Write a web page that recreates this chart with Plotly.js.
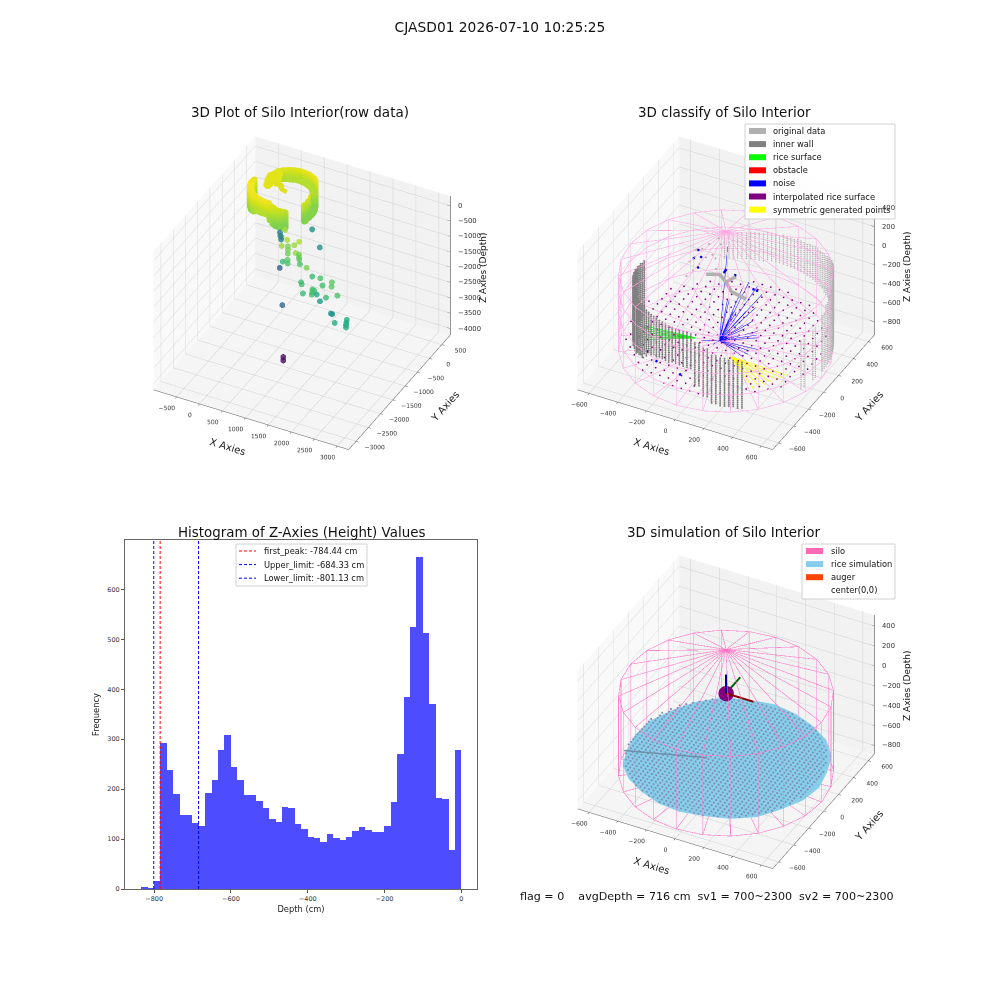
<!DOCTYPE html>
<html><head><meta charset="utf-8">
<script src="https://cdn.plot.ly/plotly-3.0.0.min.js"></script>
<style>html,body{margin:0;padding:0;background:#fff}</style></head>
<body><div id="chart" style="width:1000px;height:1000px"></div>
<script>
// ---------- histogram ----------
const binCenters=[-825.7,-809.0,-792.3,-775.6,-758.9,-742.2,-725.6,-708.9,-692.2,-675.5,-658.8,-642.1,-625.5,-608.8,-592.1,-575.4,-558.7,-542.0,-525.4,-508.7,-492.0,-475.3,-458.6,-441.9,-425.2,-408.6,-391.9,-375.2,-358.5,-341.8,-325.1,-308.5,-291.8,-275.1,-258.4,-241.7,-225.0,-208.4,-191.7,-175.0,-158.3,-141.6,-124.9,-108.3,-91.6,-74.9,-58.2,-41.5,-24.8,-8.2];
const binCounts=[4,2,16,292,238,190,148,148,132,126,192,218,278,308,244,218,188,188,176,162,140,134,164,162,130,120,104,102,94,110,102,98,104,116,124,118,114,114,126,174,270,385,524,665,513,371,182,180,78,278];
const firstPeak=-784.44, upperLimit=-684.33, lowerLimit=-801.13;
const limitNames=['first_peak: -784.44 cm','Upper_limit: -684.33 cm','Lower_limit: -801.13 cm'];
const limitColors=['#ff0000','#0000ff','#0000ff'];
// ---------- scattered returns (panel 1) ----------
const outX=[623,805,634,764,782,835,857,971,1058,1112,1062,1104,1086,1111,1429,891,895,703,39,383,787,-271,-207,-145,706,1368,1411,1436,1675,1993,2054,1786,1533,1673,1716,1741,1720,1637,1992,2232,1701,2021,2053,2413,2574,2610,2641,2677,949,1001];
const outY=[-1249,-1515,-1417,-1664,-1442,-1543,-1585,-1533,-1497,-1747,-1517,-1598,-1550,-1570,-1892,-1662,-1656,-1508,-383,295,-150,205,110,19,-1526,-2005,-2058,-1676,-1794,-1914,-2045,-1911,-2238,-2113,-2193,-2268,-2123,-1870,-2156,-2139,-1858,-2007,-2015,-2591,-2397,-2482,-2553,-2621,-1947,-2045];
const outZ=[-520,-520,-600,-600,-800,-800,-880,-600,-480,-600,-880,-880,-1000,-1120,-800,-1000,-1120,-1280,-2800,-2000,-2000,-2320,-2320,-2320,-2680,-1200,-1200,-1280,-1120,-1000,-1000,-1200,-1280,-1200,-1200,-1200,-1200,-1600,-1280,-1120,-1800,-1920,-1920,-1520,-1520,-1520,-1520,-1520,-3880,-3880];
const outShiftX=-77, outShiftY=427;
// ---------- wall columns (polar, degrees) ----------
const backAngles=[-20,-10,0,5,10,15,20,25,30,35,40,45,50,55,60,65,70,75,80,85,90,95,100,105,110,115,120];
const backTop=[-250,-220,-150,-100,-60,-20,20,30,40,30,10,-30,-50,-65,-80,-90,-105,-115,-125,-140,-150,-160,-170,-180,-190,-200,-214];
const backBottom=[-760,-750,-745,-745,-745,-745,-745,-745,-745,-650,-520,-470,-460,-450,-440,-440,-440,-440,-440,-440,-450,-450,-460,-460,-470,-470,-470];
const frontAngles=[180,185,190,195,200,205,210,215,220,225,230,235,240,245,250,255,260,265,270,275,280,285,290,295,300];
const frontTop=[-146,-130,-110,-90,-70,-50,-50,-50,-60,-70,-75,-80,-80,-80,-80,-80,-80,-80,-75,-150,-200,-255,-280,-300,-320];
const frontBottom=[-720,-720,-710,-700,-700,-700,-700,-690,-680,-650,-620,-560,-500,-480,-470,-460,-450,-450,-450,-600,-700,-765,-780,-790,-800];
const wallLevels=[40,20,0,-20,-40,-60,-80,-100,-120,-140,-160,-180,-200,-220,-240,-260,-280,-300,-320,-340,-360,-380,-400,-420,-440,-460,-480,-500,-520,-540,-560,-580,-600,-620,-640,-660,-680,-700,-720,-740,-760,-780,-800];
const columnOffsets=[0,2.5];
const wallRadius=620, wallCenterX=40, wallCenterY=20;
// ---------- central obstruction and sparse returns ----------
const blobX=[-122,-38,31,101,215,null,31,67];
const blobY=[-32,-14,-58,-123,-142,null,-58,5];
const blobZ=[-40,-20,-30,-40,-50,null,-30,-10];
const sparseX=[-265,-231,-265,-211,-176,-195,-212,-177,-159,-89,-230,-140,-250,-120];
const sparseY=[20,-87,104,177,241,18,-34,71,123,37,125,200,60,90];
const sparseZ=[-20,-60,30,50,70,-10,-40,20,10,-30,40,60,0,20];
// ---------- noise rays ----------
const rayStart=[-40,-10,-720];
const rayEndX=[169,186,124,71,266,269,207,159,195,134,107,28,250,168,-4,230,150,100,60,210,180,120,90,-4,-90,-150,-60];
const rayEndY=[73,126,71,83,-65,-90,-83,-81,-18,10,-69,-8,-54,97,29,-30,-40,-30,-20,-110,-120,-110,-70,29,-20,-40,-60];
const rayEndZ=[-350,-250,-100,-200,-500,-600,-650,-400,-400,-350,-300,-250,-450,-150,250,-520,-480,-420,-360,-660,-690,-640,-560,-300,-730,-740,-725];
const noiseX=[-15,61,-12,-18,58,-240,-210,-190,-250,-330,-240,-60,160,200];
const noiseY=[16,6,20,12,10,30,70,-10,110,-420,-470,-500,60,30];
const noiseZ=[0,0,10,-10,-5,20,10,-20,30,-600,-620,-650,-150,-120];
// ---------- rice surface, symmetric points ----------
const riceApex=[-166,-79,-690];
const riceEndX=[-517,-510,-500,-490,-480,-465,-448];
const riceEndY=[-113,-135,-160,-180,-200,-222,-242];
const riceZ=-690;
const symApex=[106,-154,-690];
const symEndX=[520,499,478,457,436,415,394];
const symEndY=[-168,-205,-241,-278,-315,-351,-388];
const symZ=-690;
// ---------- interpolated lattice ----------
const latticeValues=[-600,-540,-480,-420,-360,-300,-240,-180,-120,-60,0,60,120,180,240,300,360,420,480,540,600];
const latticeHalf=[120,300,360,420,480,540,540,540,600,600,600,600,600,540,540,540,480,420,360,300,120];
const latticeZ=-680;
// ---------- silo ----------
const siloAngles=[0,15,30,45,60,75,90,105,120,135,150,165,180,195,210,225,240,255,270,285,300,315,330,345];
const siloRadius=665, siloTop=0, siloBottom=-800, roofApex=440, floorApex=-700;
const siloLevels=[-620,-400,-180];
// ---------- simulated rice ----------
const simRadii=[650,640,655,650,640,645,650,640,650,640,630,640,635,630,640,630,620,625,630,620,630,640,630,645];
const simRim=[-660,-660,-660,-655,-660,-665,-660,-660,-665,-670,-680,-690,-700,-705,-695,-680,-670,-660,-655,-655,-660,-660,-660,-660];
const simCenterZ=-660;
const simValues=[-600,-570,-540,-510,-480,-450,-420,-390,-360,-330,-300,-270,-240,-210,-180,-150,-120,-90,-60,-30,0,30,60,90,120,150,180,210,240,270,300,330,360,390,420,450,480,510,540,570,600];
const simHalf=[150,240,300,360,390,420,450,480,510,510,540,540,570,570,570,600,600,600,600,600,600,600,600,600,600,600,570,570,570,540,540,510,510,480,450,420,390,360,300,240,150];
const wedgeX=[-590,-100], wedgeY=[-230,-60], wedgeZ=[-640,-640];
// ---------- axis ticks ----------
const ticks1X=[-500,0,500,1000,1500,2000,2500,3000];
const ticks1Y=[-3000,-2500,-2000,-1500,-1000,-500,0,500];
const ticks1Z=[-4000,-3500,-3000,-2500,-2000,-1500,-1000,-500,0];
const ticksSilo=[-600,-400,-200,0,200,400,600];
const ticksSiloZ=[-800,-600,-400,-200,0,200,400];
// ---------- legend contents ----------
const classNames=['original data','inner wall','rice surface','obstacle','noise','interpolated rice surface','symmetric generated points'];
const classColors=['#b0b0b0','#808080','#00ff00','#ff0000','#0000ff','#800080','#ffff00'];
const simNames=['silo','rice simulation','auger','center(0,0)'];
const simColors=['#ff69b4','#87ceeb','#ff4500','#ffffff'];

const rad=a=>a*Math.PI/180;
function wallDots(angles,tops,bottoms){
  const x=[],y=[],z=[];
  angles.forEach((a,i)=>{columnOffsets.forEach(o=>{wallLevels.forEach(l=>{
    if(l<=tops[i]&&l>=bottoms[i]){
      x.push(wallCenterX+wallRadius*Math.cos(rad(a+o)));
      y.push(wallCenterY+wallRadius*Math.sin(rad(a+o)));
      z.push(l);
    }});});});
  return {x,y,z};
}
const back=wallDots(backAngles,backTop,backBottom);
const front=wallDots(frontAngles,frontTop,frontBottom);
function rays(start,ex,ey,ez){
  const x=[],y=[],z=[];
  ex.forEach((_,i)=>{x.push(start[0],ex[i],null);y.push(start[1],ey[i],null);z.push(start[2],ez[i],null);});
  return {x,y,z};
}
function siloWire(levels){
  const x=[],y=[],z=[];
  const zs=[siloTop,siloBottom].concat(levels);
  zs.forEach(l=>{
    siloAngles.concat([360]).forEach(a=>{x.push(siloRadius*Math.cos(rad(a)));y.push(siloRadius*Math.sin(rad(a)));z.push(l);});
    x.push(null);y.push(null);z.push(null);
  });
  siloAngles.forEach(a=>{
    const cx=siloRadius*Math.cos(rad(a)),cy=siloRadius*Math.sin(rad(a));
    x.push(0,cx,cx,0,null);y.push(0,cy,cy,0,null);z.push(roofApex,siloTop,siloBottom,floorApex,null);
  });
  return {x,y,z};
}
function axis3d(title,range,tickvals,bg){
  return {title:{text:title,font:{family:'DejaVu Sans',size:10,color:'#222'}},range,tickvals,autorange:false,tickangle:0,
    tickfont:{family:'DejaVu Sans',size:8.5,color:'#333'},showbackground:true,backgroundcolor:bg,
    gridcolor:'#cfcfcf',gridwidth:1,zeroline:false,showline:true,linecolor:'#555',linewidth:1,ticks:'outside',ticklen:3,tickcolor:'#555',showspikes:false};
}
const eyeDist=2.02;
const camera={eye:{x:0.374*eyeDist,y:-0.718*eyeDist,z:0.588*eyeDist},up:{x:0,y:0,z:1},center:{x:0,y:0,z:0},projection:{type:'orthographic'}};
const minusText=v=>String(v).replace('-','−');
function scene(dom,rx,ry,rz,tx,ty,tz){
  const zAxis=axis3d('',rz,tz,'#f5f5f5');
  zAxis.showticklabels=false;zAxis.showline=false;zAxis.ticks='';
  return {domain:dom,camera,aspectmode:'manual',aspectratio:{x:1,y:1,z:0.78},
    xaxis:axis3d('X Axies',rx,tx,'#f9f9f9'),yaxis:axis3d('Y Axies',ry,ty,'#f2f2f2'),zaxis:zAxis,
    annotations:tz.map(v=>({x:rx[1],y:ry[1],z:v,text:minusText(v),showarrow:false,xanchor:'left',xshift:6,yanchor:'middle',font:{family:'DejaVu Sans',size:6.8,color:'#333'}}))};
}
function zAxisEdge(sceneId,rx,ry,rz,tz){
  const tickX=(rx[1]-rx[0])*0.02, x=[rx[1],rx[1],null],y=[ry[1],ry[1],null],z=[rz[0],rz[1],null];
  tz.forEach(v=>{x.push(rx[1],rx[1]-tickX,null);y.push(ry[1],ry[1],null);z.push(v,v,null);});
  return {type:'scatter3d',scene:sceneId,mode:'lines',x,y,z,showlegend:false,line:{width:1.2,color:'#555'}};
}
const range1=[[-1000,3250],[-3300,850],[-4210,314]];
const range2=[[-680,680],[-680,680],[-940,520]];
const range3=[[-680,680],[-680,680],[-885,510]];

const traces=[];
// panel 1
const allX=back.x.concat(front.x),allY=back.y.concat(front.y),allZ=back.z.concat(front.z);
traces.push({type:'scatter3d',scene:'scene',mode:'markers',x:allX,y:allY,z:allZ,showlegend:false,
  marker:{size:4,color:allZ,colorscale:'Viridis',cmin:-4000,cmax:0,opacity:0.9,line:{width:0}}});
traces.push({type:'scatter3d',scene:'scene',mode:'lines',x:blobX,y:blobY,z:blobZ,showlegend:false,line:{width:9,color:'#dde01d'}});
traces.push({type:'scatter3d',scene:'scene',mode:'markers',x:sparseX,y:sparseY,z:sparseZ,showlegend:false,
  marker:{size:5,color:'#e3e31a',line:{width:0}}});
traces.push({type:'scatter3d',scene:'scene',mode:'markers',x:outX.map(v=>v+outShiftX),y:outY.map(v=>v+outShiftY),z:outZ,showlegend:false,
  marker:{size:3.4,color:outZ,colorscale:'Viridis',cmin:-4000,cmax:0,opacity:0.8,line:{width:0}}});
traces.push(zAxisEdge('scene',range1[0],range1[1],range1[2],ticks1Z));
// panel 2
const wire2=siloWire(siloLevels);
traces.push({type:'scatter3d',scene:'scene2',mode:'lines',x:wire2.x,y:wire2.y,z:wire2.z,showlegend:false,line:{width:1.3,color:'rgba(255,140,195,0.85)'}});
const lx=[],ly=[];
latticeValues.forEach((yv,i)=>latticeValues.forEach(xv=>{if(Math.abs(xv)<=latticeHalf[i]){lx.push(xv);ly.push(yv);}}));
traces.push({type:'scatter3d',scene:'scene2',mode:'markers',name:classNames[5],x:lx,y:ly,z:lx.map(()=>latticeZ),showlegend:false,marker:{size:1,color:classColors[5],line:{width:0}}});
traces.push({type:'scatter3d',scene:'scene2',mode:'markers',name:classNames[0],x:back.x,y:back.y,z:back.z,showlegend:false,marker:{size:0.8,color:classColors[0],line:{width:0}}});
traces.push({type:'scatter3d',scene:'scene2',mode:'markers',name:classNames[1],x:front.x,y:front.y,z:front.z,showlegend:false,marker:{size:1.1,color:classColors[1],line:{width:0}}});
traces.push({type:'scatter3d',scene:'scene2',mode:'lines',x:blobX,y:blobY,z:blobZ,showlegend:false,line:{width:7,color:classColors[0]}});
traces.push({type:'scatter3d',scene:'scene2',mode:'markers',x:sparseX,y:sparseY,z:sparseZ,showlegend:false,marker:{size:1.2,color:classColors[0],line:{width:0}}});
const noise=rays(rayStart,rayEndX,rayEndY,rayEndZ);
traces.push({type:'scatter3d',scene:'scene2',mode:'lines',name:classNames[4],x:noise.x,y:noise.y,z:noise.z,showlegend:false,line:{width:1,color:classColors[4]}});
traces.push({type:'scatter3d',scene:'scene2',mode:'markers',x:noiseX,y:noiseY,z:noiseZ,showlegend:false,marker:{size:1.5,color:classColors[4],line:{width:0}}});
const riceR=rays(riceApex,riceEndX,riceEndY,riceEndX.map(()=>riceZ));
traces.push({type:'scatter3d',scene:'scene2',mode:'lines',name:classNames[2],x:riceR.x,y:riceR.y,z:riceR.z,showlegend:false,line:{width:1.5,color:classColors[2]}});
const symR=rays(symApex,symEndX,symEndY,symEndX.map(()=>symZ));
traces.push({type:'scatter3d',scene:'scene2',mode:'lines',name:classNames[6],x:symR.x,y:symR.y,z:symR.z,showlegend:false,line:{width:1.5,color:classColors[6]}});
traces.push(zAxisEdge('scene2',range2[0],range2[1],range2[2],ticksSiloZ));
// panel 4
const wire4=siloWire([]);
traces.push({type:'scatter3d',scene:'scene3',mode:'lines',name:simNames[0],x:wire4.x,y:wire4.y,z:wire4.z,showlegend:false,line:{width:1.3,color:'rgba(255,105,180,0.9)'}});
const mx=[0],my=[0],mz=[simCenterZ],mi=[],mj=[],mk=[];
siloAngles.forEach((a,i)=>{mx.push(simRadii[i]*Math.cos(rad(a)));my.push(simRadii[i]*Math.sin(rad(a)));mz.push(simRim[i]);
  mi.push(0);mj.push(i+1);mk.push((i+1)%siloAngles.length+1);});
traces.push({type:'mesh3d',scene:'scene3',name:simNames[1],x:mx,y:my,z:mz,i:mi,j:mj,k:mk,color:simColors[1],opacity:1,flatshading:true,showscale:false,
  lighting:{ambient:1,diffuse:0,specular:0,roughness:1,fresnel:0}});
const hx=[],hy=[];
simValues.forEach((yv,i)=>simValues.forEach(xv=>{if(Math.abs(xv)<=simHalf[i]){hx.push(xv);hy.push(yv);}}));
traces.push({type:'scatter3d',scene:'scene3',mode:'markers',x:hx,y:hy,z:hx.map(()=>-650),showlegend:false,marker:{size:1.2,color:'#7f8fb5',line:{width:0}}});
traces.push({type:'scatter3d',scene:'scene3',mode:'lines',x:wedgeX,y:wedgeY,z:wedgeZ,showlegend:false,line:{width:3,color:'#6f8da6'}});
const arrowLen=190;
[[arrowLen,0,0,'#8b0000','#cc0000'],[0,arrowLen,0,'#006400','#008000'],[0,0,arrowLen,'#00008b','#0000cd']].forEach(d=>{
  traces.push({type:'scatter3d',scene:'scene3',mode:'lines',x:[0,d[0]],y:[0,d[1]],z:[0,d[2]],showlegend:false,line:{width:4,color:d[3]}});
  traces.push({type:'cone',scene:'scene3',x:[d[0]*0.8],y:[d[1]*0.8],z:[d[2]*0.8],u:[d[0]*0.2],v:[d[1]*0.2],w:[d[2]*0.2],anchor:'tail',sizemode:'absolute',sizeref:0.5,showscale:false,colorscale:[[0,d[4]],[1,d[4]]],lighting:{ambient:1,diffuse:0,specular:0}});
});
traces.push({type:'scatter3d',scene:'scene3',mode:'markers',x:[0],y:[0],z:[0],showlegend:false,marker:{size:9,color:'#800080',line:{width:0}}});
traces.push(zAxisEdge('scene3',range3[0],range3[1],range3[2],ticksSiloZ));
// histogram
traces.push({type:'bar',xaxis:'x',yaxis:'y',x:binCenters,y:binCounts,width:16.68,marker:{color:'#4d4dff',line:{width:0}},showlegend:false});
[firstPeak,upperLimit,lowerLimit].forEach((v,i)=>{
  traces.push({type:'scatter',xaxis:'x',yaxis:'y',mode:'lines',x:[v,v],y:[0,699],name:limitNames[i],showlegend:false,line:{color:limitColors[i],width:1,dash:'3px,2px'}});
});

const px=v=>v/1000, py=v=>1-v/1000;
const annotations=[], shapes=[];
const note=(t,x,y,size,anchor,angle)=>annotations.push({text:t,x:px(x),y:py(y),xref:'paper',yref:'paper',showarrow:false,xanchor:anchor||'center',yanchor:'middle',textangle:angle||0,
  font:{family:'DejaVu Sans',size,color:'#111'}});
note('3D Plot of Silo Interior(row data)',300,112,13.5);
note('3D classify of Silo Interior',724,112,13.5);
note('Histogram of Z-Axies (Height) Values',301,532,13.4);
note('3D simulation of Silo Interior',724,532,13.5);
note('flag = 0    avgDepth = 716 cm  sv1 = 700~2300  sv2 = 700~2300',707,896,11.1);
note('Z Axies (Depth)',483,268,9,'center',-90);
note('Z Axies (Depth)',907,267,9,'center',-90);
note('Z Axies (Depth)',907,686,9,'center',-90);
function legendBox(x0,y0,x1,y1,names,colors,patchX,textX,firstY,stepY){
  shapes.push({type:'rect',layer:'above',xref:'paper',yref:'paper',x0:px(x0),x1:px(x1),y0:py(y0),y1:py(y1),fillcolor:'#ffffff',opacity:0.9,line:{color:'#cccccc',width:1}});
  names.forEach((n,i)=>{
    const yc=firstY+i*stepY;
    shapes.push({type:'rect',layer:'above',xref:'paper',yref:'paper',x0:px(patchX),x1:px(patchX+17),y0:py(yc-3),y1:py(yc+3),fillcolor:colors[i],line:{width:0}});
    note(n,textX,yc,8.3,'left');
  });
}
legendBox(745,124,895,219,classNames,classColors,749,771,131,13.1);
legendBox(802,544,895,599,simNames,simColors,806,829,551,13.1);
shapes.push({type:'rect',layer:'above',xref:'paper',yref:'paper',x0:px(236),x1:px(367),y0:py(544),y1:py(586),fillcolor:'#ffffff',opacity:0.9,line:{color:'#cccccc',width:1}});
limitNames.forEach((n,i)=>{
  const yc=551+i*13.6;
  shapes.push({type:'line',layer:'above',xref:'paper',yref:'paper',x0:px(239),x1:px(256),y0:py(yc),y1:py(yc),line:{color:limitColors[i],width:1,dash:'3px,2px'}});
  note(n,262,yc,8.3,'left');
});

const layout={width:1000,height:1000,autosize:false,margin:{l:0,r:0,t:0,b:0},paper_bgcolor:'#ffffff',plot_bgcolor:'#ffffff',showlegend:false,
  title:{text:'CJASD01 2026-07-10 10:25:25',x:0.5,xanchor:'center',xref:'paper',y:0.973,yref:'paper',yanchor:'middle',font:{family:'DejaVu Sans',size:13.8,color:'#111'}},
  scene:scene({x:[0.082,0.522],y:[0.487,0.927]},range1[0],range1[1],range1[2],ticks1X,ticks1Y,ticks1Z),
  scene2:scene({x:[0.506,0.946],y:[0.487,0.927]},range2[0],range2[1],range2[2],ticksSilo,ticksSilo,ticksSiloZ),
  scene3:scene({x:[0.506,0.946],y:[0.068,0.508]},range3[0],range3[1],range3[2],ticksSilo,ticksSilo,ticksSiloZ),
  xaxis:{domain:[0.125,0.477],range:[-876,41],anchor:'y',tickvals:[-800,-600,-400,-200,0],ticktext:['−800','−600','−400','−200','0'],tickfont:{family:'DejaVu Sans',size:6.5,color:'#333'},
    title:{text:'Depth (cm)',font:{family:'DejaVu Sans',size:8.3,color:'#222'},standoff:4},showline:true,mirror:true,linecolor:'#666',linewidth:1,ticks:'outside',ticklen:3,tickcolor:'#555',showgrid:false,zeroline:false},
  yaxis:{domain:[0.111,0.46],range:[0,699],anchor:'x',tickvals:[0,100,200,300,400,500,600],tickfont:{family:'DejaVu Sans',size:6.5,color:'#333'},
    title:{text:'Frequency',font:{family:'DejaVu Sans',size:8.3,color:'#222'},standoff:6},showline:true,mirror:true,linecolor:'#666',linewidth:1,ticks:'outside',ticklen:3,tickcolor:'#555',showgrid:false,zeroline:false},
  bargap:0,annotations,shapes};
Plotly.newPlot('chart',traces,layout,{displayModeBar:false});
</script></body></html>
